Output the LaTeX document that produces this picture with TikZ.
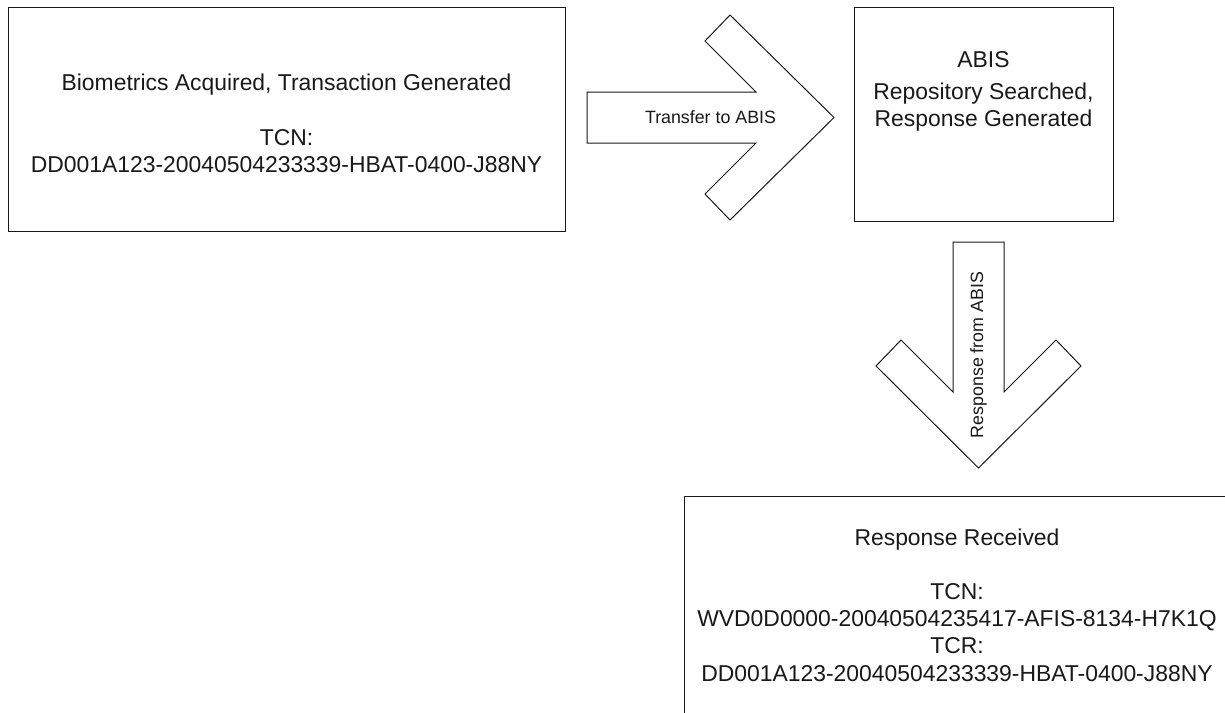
\documentclass[tikz,border=0pt]{standalone}
\usepackage{fontspec}
\setmainfont{Liberation Sans}
\usepackage{tikz}
\usetikzlibrary{positioning}
\tikzset{box/.style = {draw, rectangle, line width = 0.5pt, inner sep = 0, outer sep = 0}}
\tikzset{txt/.style = {inner sep = 0, align = center, font = \fontsize{11.45}{13.6}\selectfont}}
\tikzset{blockarrow/.style = {draw, line width = 0.5pt, line join = miter, fill = white}}
\tikzset{arrowlabel/.style = {inner sep = 0, font = \fontsize{8.9}{10}\selectfont}}
\definecolor{mline}{rgb}{0.1, 0.1, 0.1}

\begin{document}
\begin{tikzpicture}[x = 0.5pt, y = -0.5pt, color = mline]
      \useasboundingbox (0, 0) rectangle (1225, 712);

      % boxes
      \node [box, minimum width = 278.5pt, minimum height = 112pt] (acquired) at (286.5, 119) {};
      \node [txt] (acquiredtext) at (286.5, 123.6)
        {Biometrics Acquired, Transaction Generated\\[13.6pt]TCN:\\DD001A123-20040504233339-HBAT-0400-J88NY};

      \node [box, minimum width = 129.5pt, minimum height = 107pt] (abis) at (983.5, 114) {};
      \node [txt] (abistext) at (983.5, 91.2) {ABIS\\[2.4pt]Repository Searched,\\Response Generated};

      \node [box, minimum width = 273pt, minimum height = 117pt] (received) at (957, 613) {};
      \node [txt] (receivedtext) at (957, 604.9)
        {Response Received\\[13.6pt]TCN:\\WVD0D0000-20040504235417-AFIS-8134-H7K1Q\\TCR:\\DD001A123-20040504233339-HBAT-0400-J88NY};

      % block arrows
      \coordinate (transfertip) at (834, 117.5);
      \coordinate (responsetip) at (978.5, 468);

      \begin{scope}[shift = {(transfertip)}]
        \draw [blockarrow] (-247, 25.5) -- (-78, 25.5) -- (-129, 76.5) -- (-104, 102.5) -- (0, 0)
          -- (-104, -102.5) -- (-129, -76.5) -- (-78, -25.5) -- (-247, -25.5) -- cycle;
      \end{scope}
      \node [arrowlabel] (transfer) at (710.5, 117.5) {Transfer to ABIS};

      \begin{scope}[shift = {(responsetip)}, rotate = -90]
        \draw [blockarrow] (-226, 25.5) -- (-76, 25.5) -- (-128, 77.5) -- (-102, 102.5) -- (0, 0)
          -- (-102, -102.5) -- (-128, -77.5) -- (-76, -25.5) -- (-226, -25.5) -- cycle;
      \end{scope}
      \node [arrowlabel, rotate = 90] (response) at (978.5, 355) {Response from ABIS};
    \end{tikzpicture}
\end{document}
